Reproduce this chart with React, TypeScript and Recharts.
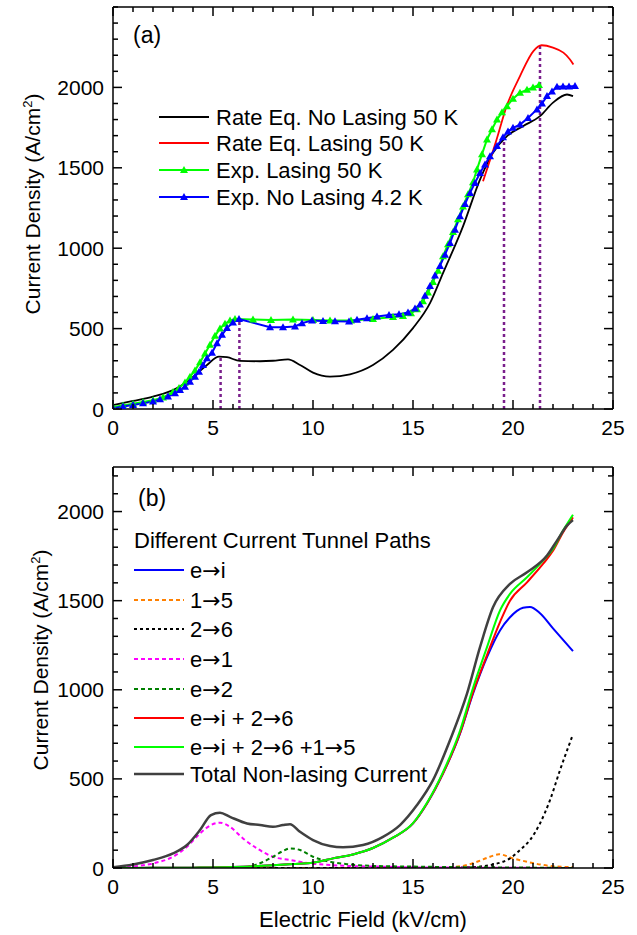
import React from "react";
import { LineChart, Line, XAxis, YAxis, ReferenceLine, Legend } from "recharts";

const FONT = "'Liberation Sans', Arial, Helvetica, sans-serif";
const ARROW_FONT = "'DejaVu Sans', sans-serif";

// ---------- panel (a) ----------
const rateNoLasingE = [0, 1, 2, 3.2, 4.0, 4.7, 5.3, 5.7, 6.35, 7.35, 8.0, 8.75, 9.35, 10.0, 10.85, 11.85, 13.0, 14.0, 15.0, 15.85, 16.5, 17.5, 18.35, 19.0, 19.7, 20.5, 21.35, 22.0, 22.7, 23.0];
const rateNoLasingJ = [25, 50, 77, 130, 200, 274, 326, 322, 299, 297, 300, 309, 274, 226, 201, 216, 274, 368, 503, 658, 845, 1136, 1427, 1593, 1697, 1759, 1821, 1905, 1956, 1946];

const rateLasingE = [18.5, 19.18, 19.68, 20.35, 21.02, 21.43, 22.0, 22.52, 22.85, 23.02];
const rateLasingJ = [1416, 1676, 1883, 2070, 2226, 2262, 2247, 2216, 2174, 2143];

const expLasingE = [0, 0.5, 1, 1.5, 2, 2.5, 3, 3.3, 3.6, 3.85, 4.1, 4.35, 4.6, 4.85, 5.1, 5.35, 5.6, 5.85, 6.1, 7.0, 7.9, 9.0, 10.0, 10.85, 11.9, 13.0, 14.0, 14.5, 14.9, 15.2, 15.5, 15.75, 16.0, 16.25, 16.5, 16.75, 17.0, 17.25, 17.5, 17.75, 18.0, 18.2, 18.45, 18.7, 18.95, 19.2, 19.45, 19.7, 20.0, 20.35, 20.7, 21.0, 21.3];
const expLasingJ = [12, 22, 32, 43, 55, 72, 105, 130, 165, 200, 240, 290, 345, 400, 455, 500, 530, 550, 560, 557, 553, 556, 553, 550, 550, 560, 572, 578, 595, 620, 670, 725, 790, 860, 950, 1025, 1100, 1180, 1260, 1335, 1410, 1490, 1585, 1676, 1740, 1800, 1845, 1883, 1930, 1967, 1985, 2000, 2015];

const expNoLasingE = [0, 0.5, 1, 1.5, 2, 2.35, 2.75, 3.1, 3.35, 3.6, 3.85, 4.1, 4.3, 4.5, 4.7, 4.95, 5.2, 5.45, 5.7, 6.0, 6.3, 7.85, 8.5, 9.1, 9.45, 9.95, 10.5, 11.1, 11.8, 12.2, 12.7, 13.2, 13.8, 14.3, 14.75, 15.1, 15.35, 15.6, 15.85, 16.1, 16.35, 16.6, 16.85, 17.1, 17.35, 17.6, 17.85, 18.1, 18.35, 18.6, 18.85, 19.2, 19.5, 19.75, 20.0, 20.35, 20.75, 21.2, 21.45, 21.7, 21.95, 22.2, 22.5, 22.8, 23.1];
const expNoLasingJ = [5, 15, 25, 35, 46, 60, 77, 98, 118, 139, 170, 201, 232, 274, 316, 350, 409, 461, 503, 538, 559, 509, 509, 513, 534, 550, 548, 545, 544, 555, 565, 575, 585, 590, 600, 625, 650, 705, 765, 830, 890, 960, 1032, 1115, 1198, 1275, 1344, 1406, 1468, 1520, 1572, 1635, 1690, 1725, 1749, 1769, 1810, 1863, 1900, 1946, 1975, 2004, 2006, 2006, 2008];

// dotted guides: field position and height
const guideE = [5.38, 6.32, 19.55, 21.35];
const guideJ = [326, 559, 1676, 2257];

// ---------- panel (b) ----------
const totalE = [0, 1, 2, 3, 3.7, 4.35, 4.9, 5.35, 5.85, 6.7, 7.35, 8.0, 8.5, 8.85, 9.35, 10.0, 10.85, 11.5, 12.5, 13.5, 14.35, 15.2, 16.0, 16.85, 17.7, 18.35, 19.0, 19.85, 20.7, 21.7, 22.2, 22.7, 23.0];
const totalJ = [4, 20, 45, 82, 129, 213, 297, 310, 287, 250, 241, 231, 241, 246, 203, 157, 123, 116, 129, 175, 241, 353, 493, 717, 978, 1239, 1463, 1594, 1659, 1753, 1837, 1921, 1952];

const eiE = [0, 2, 4, 6, 8, 9, 10, 11, 12, 13, 14, 15, 15.7, 16.5, 17.35, 18.0, 18.7, 19.35, 19.85, 20.5, 20.85, 21.35, 22.0, 23.0];
const eiJ = [0, 1, 2, 5, 15, 22, 30, 54, 76, 112, 170, 250, 362, 530, 754, 978, 1183, 1333, 1407, 1460, 1465, 1430, 1345, 1217];

const ei26E = [0, 2, 4, 6, 8, 9, 10, 11, 12, 13, 14, 15, 15.7, 16.5, 17.35, 18.0, 18.7, 19.35, 19.85, 20.7, 21.5, 22.0, 22.5, 23.0];
const ei26J = [0, 1, 2, 5, 15, 22, 30, 54, 76, 112, 170, 250, 362, 530, 756, 985, 1195, 1380, 1500, 1603, 1706, 1780, 1883, 1967];

const ei2615E = [0, 2, 4, 6, 8, 9, 10, 11, 12, 13, 14, 15, 15.7, 16.5, 17.35, 18.0, 18.7, 19.35, 19.85, 20.7, 21.5, 22.0, 22.5, 23.0];
const ei2615J = [0, 1, 2, 5, 15, 22, 30, 54, 76, 112, 170, 252, 366, 538, 770, 1010, 1239, 1445, 1538, 1631, 1725, 1790, 1893, 1982];

const p15E = [0, 14, 16, 17, 17.5, 18.2, 18.85, 19.3, 20.0, 20.7, 21.5, 22.2, 23.0];
const p15J = [0, 0, 2, 6, 12, 35, 63, 77, 54, 35, 17, 8, 5];

const p26E = [0, 16, 17.5, 18.5, 19.0, 19.5, 19.85, 20.35, 20.85, 21.35, 21.85, 22.35, 22.95];
const p26J = [0, 0, 3, 10, 20, 35, 54, 101, 157, 250, 381, 549, 735];

const pe1E = [0, 1, 2, 3, 3.7, 4.35, 4.9, 5.35, 5.85, 6.5, 7.2, 8.0, 8.85, 9.85, 10.85, 11.85, 13.2, 14.85, 17, 20, 23];
const pe1J = [0, 8, 26, 63, 119, 194, 241, 254, 231, 166, 110, 63, 45, 26, 17, 11, 8, 4, 2, 1, 0];

const pe2E = [0, 5, 6.2, 7.2, 8.0, 8.5, 8.85, 9.35, 10.0, 10.85, 11.85, 13.2, 15, 17, 20, 23];
const pe2J = [0, 0, 1, 20, 63, 95, 110, 101, 63, 35, 20, 11, 8, 5, 3, 0];

// ---------- axes ----------
const xMajor = [0, 5, 10, 15, 20, 25];
const yMajor = [0, 500, 1000, 1500, 2000];

const steps = (max: number, step: number) =>
  Array.from({ length: Math.round(max / step) + 1 }, (_, i) => i * step);
const xMinor = steps(25, 1);
const yMinorA = steps(2500, 100);
const yMinorB = steps(2200, 100);

const pts = (xs: number[], ys: number[]) => xs.map((x, i) => ({ x, y: ys[i] }));

type Side = "left" | "right" | "top" | "bottom";

// inward tick (long on majors) plus the number outside the frame
const frameTick = (side: Side, major: number[], labels: boolean) => (p: any) => {
  const x = Number(p.x);
  const y = Number(p.y);
  const v = p.payload.value;
  const big = major.includes(v);
  const len = big ? 9 : 5;
  const dx = side === "left" ? len : side === "right" ? -len : 0;
  const dy = side === "bottom" ? -len : side === "top" ? len : 0;
  return (
    <g key={`${side}-${v}`}>
      <path d={`M${x},${y}L${x + dx},${y + dy}`} stroke="#000" strokeWidth={1.5} fill="none" />
      {labels && big && side === "left" && (
        <text x={x - 9} y={y + 7.5} textAnchor="end" fontSize={21} fontFamily={FONT} fill="#000">{v}</text>
      )}
      {labels && big && side === "bottom" && (
        <text x={x} y={y + 26} textAnchor="middle" fontSize={21} fontFamily={FONT} fill="#000">{v}</text>
      )}
    </g>
  );
};

function YTitle({ bx, cy }: { bx: number; cy: number }) {
  return (
    <text transform={`translate(${bx},${cy}) rotate(-90)`} textAnchor="middle" fontSize={21} fontFamily={FONT} fill="#000">
      Current Density (A/cm<tspan dy={-8} fontSize={13}>2</tspan><tspan dy={8}>)</tspan>
    </text>
  );
}

function XTitle({ cx, by }: { cx: number; by: number }) {
  return (
    <text x={cx} y={by} textAnchor="middle" fontSize={22} fontFamily={FONT} fill="#000">Electric Field (kV/cm)</text>
  );
}

function Tri({ cx, cy, fill }: { cx: number; cy: number; fill: string }) {
  return <polygon points={`${cx - 4},${cy + 3} ${cx + 4},${cy + 3} ${cx},${cy - 4}`} fill={fill} />;
}

const triDot = (fill: string) => (p: any) => <Tri key={p.index} cx={p.cx} cy={p.cy} fill={fill} />;

const AX = { stroke: "#000", strokeWidth: 1.5 };

function frame(yTicks: number[], yMax: number, xHeight: number, withXTitle: boolean, yTitle: React.ReactElement) {
  return [
    <XAxis key="xb" xAxisId="b" type="number" dataKey="x" domain={[0, 25]} allowDataOverflow ticks={xMinor} interval={0}
      height={xHeight} tickSize={0} tickMargin={0} tickLine={false} axisLine={AX}
      tick={frameTick("bottom", xMajor, true)}
      label={withXTitle ? <XTitle cx={363} by={467} /> : undefined} />,
    <XAxis key="xt" xAxisId="t" orientation="top" type="number" dataKey="x" domain={[0, 25]} allowDataOverflow ticks={xMinor} interval={0}
      height={1} tickSize={0} tickMargin={0} tickLine={false} axisLine={AX}
      tick={frameTick("top", xMajor, false)} />,
    <YAxis key="yl" yAxisId="l" type="number" dataKey="y" domain={[0, yMax]} allowDataOverflow ticks={yTicks} interval={0}
      width={113} tickSize={0} tickMargin={0} tickLine={false} axisLine={AX}
      tick={frameTick("left", yMajor, true)} label={yTitle} />,
    <YAxis key="yr" yAxisId="r" orientation="right" type="number" dataKey="y" domain={[0, yMax]} allowDataOverflow ticks={yTicks} interval={0}
      width={1} tickSize={0} tickMargin={0} tickLine={false} axisLine={AX}
      tick={frameTick("right", yMajor, false)} />,
  ];
}

const AR = "\u2192";

const legendA = [
  { label: "Rate Eq. No Lasing 50 K", color: "#000000", tri: false },
  { label: "Rate Eq. Lasing 50 K", color: "#ff0000", tri: false },
  { label: "Exp. Lasing 50 K", color: "#00ff00", tri: true },
  { label: "Exp. No Lasing 4.2 K", color: "#0000ff", tri: true },
];

const legendB = [
  { label: `e${AR}i`, color: "#0000ff", dash: undefined, w: 2 },
  { label: `1${AR}5`, color: "#ff8000", dash: "4 3", w: 2 },
  { label: `2${AR}6`, color: "#000000", dash: "3 3", w: 2 },
  { label: `e${AR}1`, color: "#ff00ff", dash: "4 3", w: 2 },
  { label: `e${AR}2`, color: "#008000", dash: "4 3", w: 2 },
  { label: `e${AR}i + 2${AR}6`, color: "#ff0000", dash: undefined, w: 2 },
  { label: `e${AR}i + 2${AR}6 +1${AR}5`, color: "#00ff00", dash: undefined, w: 2 },
  { label: "Total Non-lasing Current", color: "#404040", dash: undefined, w: 2.5 },
];

// arrows come from DejaVu, which draws them long like the original
function withArrows(s: string) {
  return s.split(AR).map((part, i) => (
    <React.Fragment key={i}>
      {i > 0 && <tspan fontFamily={ARROW_FONT}>{AR}</tspan>}
      {part}
    </React.Fragment>
  ));
}

function LegendA() {
  const rows = [117, 143, 170, 197];
  return (
    <svg width={637} height={460} style={{ display: "block" }}>
      <text x={133} y={43} fontSize={23} fontFamily={FONT} fill="#000">(a)</text>
      {legendA.map((it, i) => (
        <g key={it.label}>
          <line x1={159} x2={209} y1={rows[i]} y2={rows[i]} stroke={it.color} strokeWidth={2} />
          {it.tri && <Tri cx={184} cy={rows[i]} fill={it.color} />}
          <text x={216} y={rows[i] + 7.5} fontSize={22} fontFamily={FONT} fill="#000">{it.label}</text>
        </g>
      ))}
    </svg>
  );
}

function LegendB() {
  const rows = [110, 140, 169, 199, 229, 258, 287, 314];
  return (
    <svg width={637} height={475} style={{ display: "block" }}>
      <text x={138} y={46} fontSize={23} fontFamily={FONT} fill="#000">(b)</text>
      <text x={134} y={88} fontSize={22} fontFamily={FONT} fill="#000">Different Current Tunnel Paths</text>
      {legendB.map((it, i) => (
        <g key={it.label}>
          <line x1={134} x2={184} y1={rows[i]} y2={rows[i]} stroke={it.color} strokeWidth={it.w} strokeDasharray={it.dash} />
          <text x={190} y={rows[i] + 7.5} fontSize={22} fontFamily={FONT} fill="#000">{withArrows(it.label)}</text>
        </g>
      ))}
    </svg>
  );
}

const legendWrap = { left: 0, top: 0, width: 637, pointerEvents: "none" as const };

export default function App() {
  return (
    <div style={{ position: "fixed", left: 0, top: 0, width: 637, height: 935, overflow: "hidden", background: "#fff", fontFamily: FONT }}>
      <div style={{ position: "absolute", left: 0, top: 0 }}>
        <LineChart width={637} height={460} margin={{ top: 6, right: 23, bottom: 0, left: 0 }}>
          {frame(yMinorA, 2500, 51, false, <YTitle bx={40} cy={204} />)}
          {guideE.map((e, i) => (
            <ReferenceLine key={e} xAxisId="b" yAxisId="l" segment={[{ x: e, y: 0 }, { x: e, y: guideJ[i] }]}
              stroke="#7a1f8c" strokeWidth={2.5} strokeDasharray="3 3" />
          ))}
          <Line xAxisId="b" yAxisId="l" data={pts(rateNoLasingE, rateNoLasingJ)} dataKey="y" type="monotone" stroke="#000000" strokeWidth={1.8} dot={false} isAnimationActive={false} />
          <Line xAxisId="b" yAxisId="l" data={pts(rateLasingE, rateLasingJ)} dataKey="y" type="monotone" stroke="#ff0000" strokeWidth={1.8} dot={false} isAnimationActive={false} />
          <Line xAxisId="b" yAxisId="l" data={pts(expLasingE, expLasingJ)} dataKey="y" type="linear" stroke="#00ff00" strokeWidth={2} dot={triDot("#00ff00")} isAnimationActive={false} />
          <Line xAxisId="b" yAxisId="l" data={pts(expNoLasingE, expNoLasingJ)} dataKey="y" type="linear" stroke="#0000ff" strokeWidth={2} dot={triDot("#0000ff")} isAnimationActive={false} />
          <Legend layout="vertical" align="center" verticalAlign="middle" wrapperStyle={legendWrap} content={() => <LegendA />} />
        </LineChart>
      </div>
      <div style={{ position: "absolute", left: 0, top: 460 }}>
        <LineChart width={637} height={475} margin={{ top: 6, right: 23, bottom: 0, left: 0 }}>
          {frame(yMinorB, 2250, 67, true, <YTitle bx={48} cy={200} />)}
          <Line xAxisId="b" yAxisId="l" data={pts(eiE, eiJ)} dataKey="y" type="monotone" stroke="#0000ff" strokeWidth={2} dot={false} isAnimationActive={false} />
          <Line xAxisId="b" yAxisId="l" data={pts(p15E, p15J)} dataKey="y" type="monotone" stroke="#ff8000" strokeWidth={2} strokeDasharray="4 3" dot={false} isAnimationActive={false} />
          <Line xAxisId="b" yAxisId="l" data={pts(p26E, p26J)} dataKey="y" type="monotone" stroke="#000000" strokeWidth={2} strokeDasharray="3 3" dot={false} isAnimationActive={false} />
          <Line xAxisId="b" yAxisId="l" data={pts(pe1E, pe1J)} dataKey="y" type="monotone" stroke="#ff00ff" strokeWidth={2} strokeDasharray="4 3" dot={false} isAnimationActive={false} />
          <Line xAxisId="b" yAxisId="l" data={pts(pe2E, pe2J)} dataKey="y" type="monotone" stroke="#008000" strokeWidth={2} strokeDasharray="4 3" dot={false} isAnimationActive={false} />
          <Line xAxisId="b" yAxisId="l" data={pts(ei26E, ei26J)} dataKey="y" type="monotone" stroke="#ff0000" strokeWidth={2} dot={false} isAnimationActive={false} />
          <Line xAxisId="b" yAxisId="l" data={pts(ei2615E, ei2615J)} dataKey="y" type="monotone" stroke="#00ff00" strokeWidth={2} dot={false} isAnimationActive={false} />
          <Line xAxisId="b" yAxisId="l" data={pts(totalE, totalJ)} dataKey="y" type="monotone" stroke="#404040" strokeWidth={2.5} dot={false} isAnimationActive={false} />
          <Legend layout="vertical" align="center" verticalAlign="middle" wrapperStyle={legendWrap} content={() => <LegendB />} />
        </LineChart>
      </div>
    </div>
  );
}
